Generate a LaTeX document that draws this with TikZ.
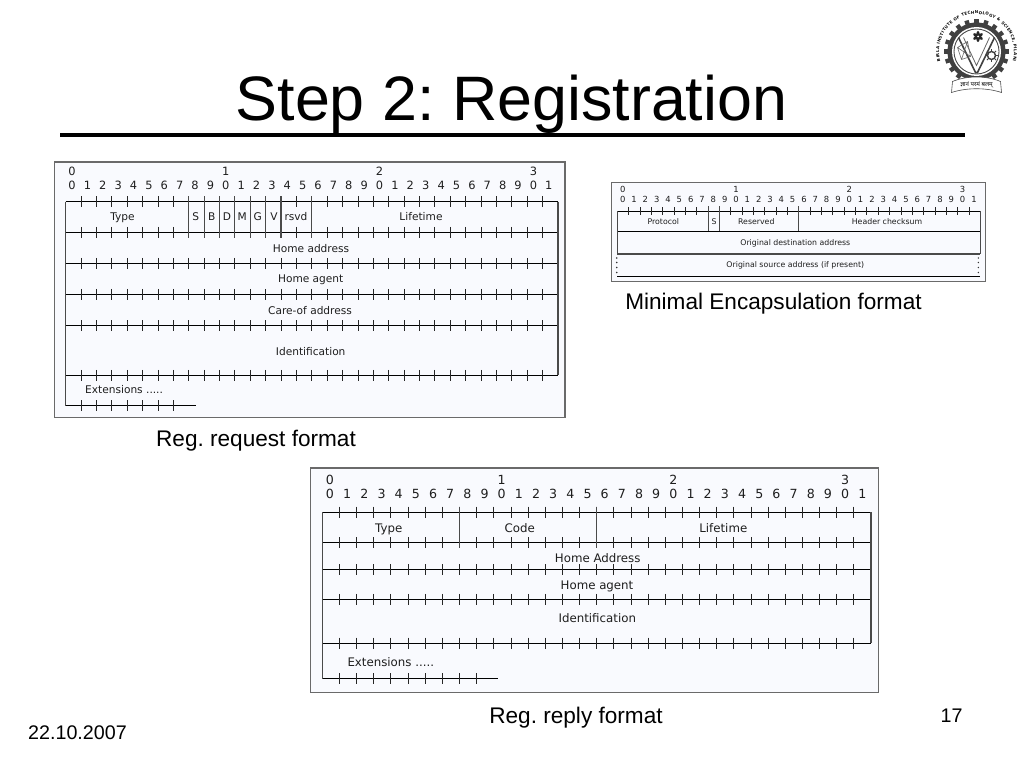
\documentclass[tikz,border=0pt]{standalone}
\usepackage{fontspec}
\setmainfont{Liberation Sans}
\setsansfont{DejaVu Sans}
\newfontfamily\devfont[Script=Devanagari]{Noto Sans}
\usetikzlibrary{decorations.text}
\frenchspacing
\definecolor{framefill}{HTML}{F9FAFE}
\definecolor{framegrey}{HTML}{6A6A6A}
\definecolor{txtgrey}{HTML}{1E1E1E}
\tikzset{
  framebox/.style={draw=framegrey,fill=framefill,line width=1.4pt},
  hline/.style={draw=black,line width=0.9pt},
  vline/.style={draw=framegrey!70!black,line width=1.1pt},
  tickmark/.style={draw=black!85,line width=0.8pt},
  sizeA/.style={inner sep=0pt,text=txtgrey,font=\sffamily\fontsize{10.6}{12}\selectfont,text height=7.7pt,text depth=0pt},
  sizeB/.style={inner sep=0pt,text=txtgrey,font=\sffamily\fontsize{7.8}{9}\selectfont,text height=5.7pt,text depth=0pt},
  sizeC/.style={inner sep=0pt,text=txtgrey,font=\sffamily\fontsize{11.8}{14}\selectfont,text height=8.6pt,text depth=0pt},
  digitA/.style={inner sep=0pt,text=txtgrey,font=\sffamily\fontsize{11.4}{12}\selectfont,text height=8.3pt,text depth=0pt},
  digitB/.style={inner sep=0pt,text=txtgrey,font=\sffamily\fontsize{8.4}{9}\selectfont,text height=6.1pt,text depth=0pt},
  digitC/.style={inner sep=0pt,text=txtgrey,font=\sffamily\fontsize{12.6}{14}\selectfont,text height=9.2pt,text depth=0pt},
  caption/.style={inner sep=0pt,anchor=base,font=\fontsize{22.6}{26}\selectfont},
  footer/.style={inner sep=0pt,anchor=base,font=\fontsize{19.7}{22}\selectfont}
}
% #1 x0, #2 cell, #3 y, #4 last tick, #5 half length
\newcommand{\tickrow}[5]{\foreach \k in {1,...,#4}{\draw[tickmark] ({#1+\k*#2},{#3-#5}) -- ({#1+\k*#2},{#3+#5});}}
% #1 prefix, #2 x of bit 0, #3 spacing, #4 y tens, #5 y units, #6 style
\newcommand{\bitnumbers}[6]{%
  \foreach \i in {0,...,31}{\pgfmathtruncatemacro{\dg}{mod(\i,10)}\node[#6] (#1u\i) at ({#2+\i*#3},#5) {\dg};}%
  \foreach \i/\t in {0/0,10/1,20/2,30/3}{\node[#6] (#1t\i) at ({#2+\i*#3},#4) {\t};}}
\begin{document}
\begin{tikzpicture}[x=1pt,y=-1pt]
\useasboundingbox (0,0) rectangle (1024,768);
\fill[white] (0,0) rectangle (1024,768);

% Title
\node[inner sep=0pt,anchor=base,font=\fontsize{62.8}{70}\selectfont] (title) at (511.5,120.5) {Step 2: Registration};
\draw[line width=3.6pt] (60,135) -- (965,135);

% ---------- Registration request
\draw[framebox] (54.5,162) rectangle (565,417.7);
\bitnumbers{a}{72}{15.38}{171.7}{185.7}{digitA}
\def\xa{65.7}\def\ca{15.38}
\foreach \yy in {201.7,232.3,263.3,294.3,325.7,375.3}{\draw[hline] (\xa,\yy) -- (558,\yy); \tickrow{\xa}{\ca}{\yy}{31}{5.5}}
\draw[hline] (\xa,405.7) -- (195.7,405.7);
\tickrow{\xa}{\ca}{405.7}{7}{5.5}
\draw[vline] (\xa,201.7) -- (\xa,405.7);
\draw[vline] (558,201.7) -- (558,375.3);
\foreach \k in {8,9,10,11,12,13,14,16}{\draw[vline] ({\xa+\k*\ca},196.2) -- ({\xa+\k*\ca},237.8);}
\node[sizeA] (atype) at (122.5,217) {Type};
\node[sizeA] (as) at (195.7,217) {S};
\node[sizeA] (ab) at (211.7,217) {B};
\node[sizeA] (ad) at (227,217) {D};
\node[sizeA] (am) at (242.3,217) {M};
\node[sizeA] (ag) at (257.7,217) {G};
\node[sizeA] (av) at (274,217) {V};
\node[sizeA] (ar) at (296,217) {rsvd};
\node[sizeA] (al) at (421,217) {Lifetime};
\node[sizeA] (ah) at (311,249) {Home address};
\node[sizeA] (aa) at (310.7,278.7) {Home agent};
\node[sizeA] (ac) at (310,310.3) {Care-of address};
\node[sizeA] (ai) at (310.7,351.7) {Identification};
\node[sizeA,anchor=west] (ae) at (85,390) {Extensions .....};
\node[caption] (capa) at (256,446) {Reg. request format};

% ---------- Minimal encapsulation
\draw[framebox] (611.7,182.3) rectangle (985.7,281.7);
\bitnumbers{b}{622.7}{11.33}{189}{199}{digitB}
\def\xb{617.3}\def\cb{11.344}
\draw[hline] (\xb,211) -- (980.3,211);
\tickrow{\xb}{\cb}{211}{31}{4}
\draw[hline] (\xb,231.3) -- (980.3,231.3);
\draw[vline] (\xb,254) -- (980.3,254);
\draw[hline,line width=0.7pt] (\xb,276.7) -- (980.3,276.7);
\draw[vline] (\xb,211) -- (\xb,254);
\draw[vline] (980.3,211) -- (980.3,254);
\foreach \k in {8,9,16}{\draw[vline] ({\xb+\k*\cb},206) -- ({\xb+\k*\cb},231.3);}
\foreach \dx in {616.7,978.3}{\foreach \dy in {258,262.5,267.5,272.5}{\fill[black!80] (\dx,\dy) circle (0.8pt);}}
\node[sizeB] (bp) at (663.3,222) {Protocol};
\node[sizeB] (bs) at (714,222) {S};
\node[sizeB] (br) at (756.3,222) {Reserved};
\node[sizeB] (bh) at (887,222) {Header checksum};
\node[sizeB] (bo) at (795.3,242.3) {Original destination address};
\node[sizeB] (bq) at (795.3,264.7) {Original source address (if present)};
\node[caption] (capb) at (773.5,309) {Minimal Encapsulation format};

% ---------- Registration reply
\draw[framebox] (310.7,468) rectangle (878.3,692.7);
\bitnumbers{c}{330}{17.17}{480}{494.3}{digitC}
\def\xc{322.3}\def\cc{17.147}
\foreach \yy in {512,542.7,569.7,599.3,643}{\draw[hline] (\xc,\yy) -- (871,\yy); \tickrow{\xc}{\cc}{\yy}{31}{5.5}}
\draw[hline] (\xc,678.7) -- (497.7,678.7);
\tickrow{\xc}{\cc}{678.7}{9}{5.5}
\draw[vline] (\xc,512) -- (\xc,678.7);
\draw[vline] (871,512) -- (871,643);
\foreach \k in {8,16}{\draw[vline] ({\xc+\k*\cc},506.5) -- ({\xc+\k*\cc},548.2);}
\node[sizeC] (ct) at (388.7,528) {Type};
\node[sizeC] (cc) at (519.7,528) {Code};
\node[sizeC] (cl) at (723.3,528) {Lifetime};
\node[sizeC] (ch) at (597.7,558) {Home Address};
\node[sizeC] (ca) at (597,584.7) {Home agent};
\node[sizeC] (ci) at (597.3,618) {Identification};
\node[sizeC,anchor=west] (ce) at (347.3,662) {Extensions .....};
\node[caption] (capc) at (576,723) {Reg. reply format};

% Footer
\node[footer] (date) at (77.5,739) {22.10.2007};
\node[footer] (page) at (951.5,722.5) {17};

% ---------- Seal
\begin{scope}[shift={(976.5,51.5)},y=1pt]
  \path[decorate,decoration={text along path,text align=fit to path,
    text={|\sffamily\bfseries\fontsize{4}{4}\selectfont|BIRLA INSTITUTE OF TECHNOLOGY {\&} SCIENCE, PILANI}}]
    (195:37.5) arc[start angle=195,end angle=-15,radius=37.5];
  \foreach \a in {0,18,...,342}{\fill[black!75,rotate=\a] (-2.2,27.5) rectangle (2.2,32.5);}
  \fill[black!75] (0,0) circle (29);
  \fill[white] (0,0) circle (24.5);
  \draw[black!70,line width=0.9pt] (0,0) circle (22.5);
  \draw[black!75,line width=1.6pt] (-18,14) -- (-1,-21) -- (1,-21) -- (18,14);
  \draw[black!60,line width=0.8pt] (-13,14) -- (0,-14) -- (13,14);
  \foreach \a in {0,60,...,300}{\fill[black!85,shift={(1.5,15)},rotate=\a] (0,2.5) ellipse (1.6 and 3);}
  \fill[white] (1.5,15) circle (1);
  \draw[black!75,line width=1.4pt] (15,-4) circle (4);
  \foreach \a in {0,45,...,315}{\draw[black!75,line width=1pt,shift={(15,-4)},rotate=\a] (0,4) -- (0,6.5);}
  \draw[black!60,line width=0.6pt] (-19,4) -- (-9,10) -- (-6,-5) -- (-15,-8) -- cycle (-19,4) -- (-6,-5) (-9,10) -- (-15,-8);
  \fill[white] (-24,-30) .. controls (-10,-24) and (10,-24) .. (24,-30) -- (25,-41) .. controls (10,-36) and (-10,-36) .. (-25,-41) -- cycle;
  \draw[black!70,line width=0.6pt] (-24,-30) .. controls (-10,-24) and (10,-24) .. (24,-30) -- (25,-41) .. controls (10,-36) and (-10,-36) .. (-25,-41) -- cycle;
  \node[inner sep=0pt,font=\devfont\fontsize{6}{6}\selectfont] (motto) at (0,-33.5) {ज्ञानं परमं बलम्};
\end{scope}
\end{tikzpicture}
\end{document}
